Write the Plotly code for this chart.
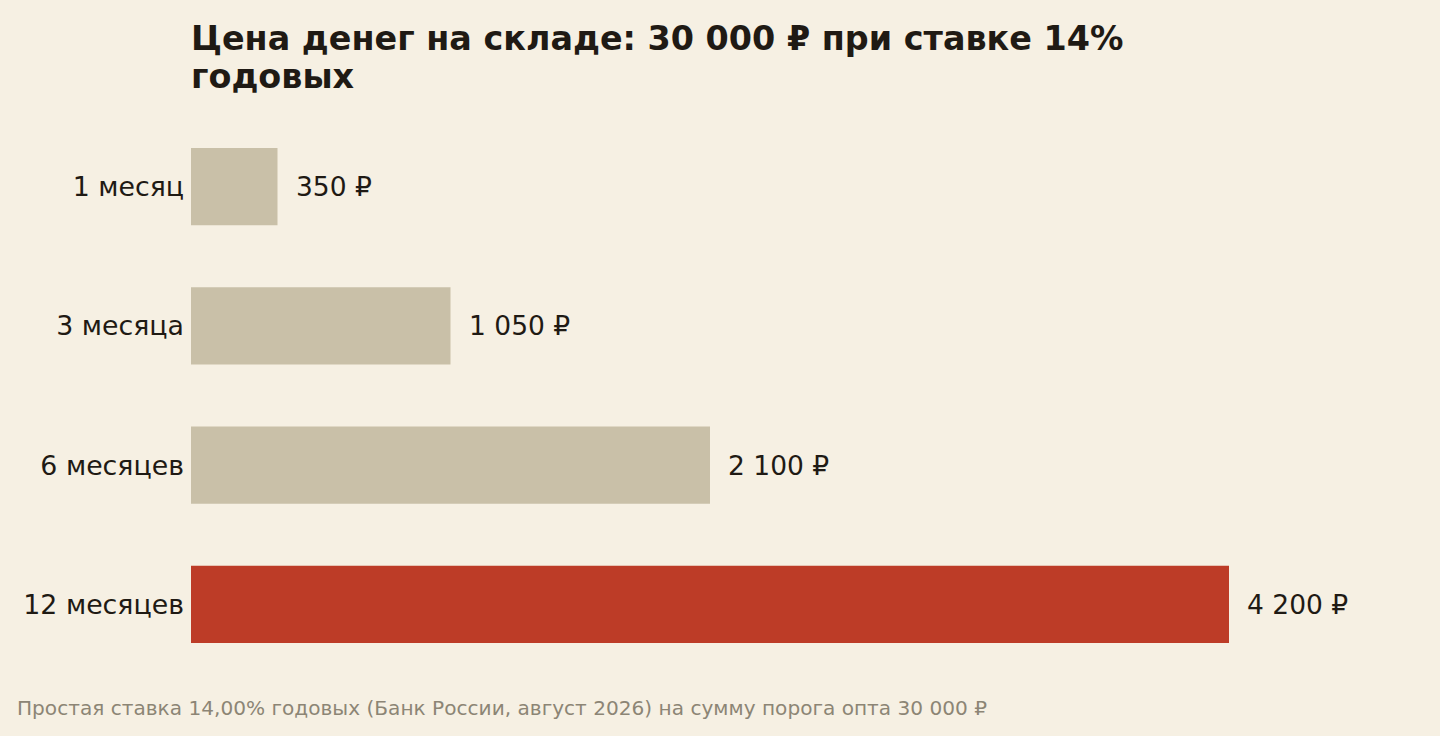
import plotly.graph_objects as go

categories = ["1 месяц", "3 месяца", "6 месяцев", "12 месяцев"]
values = [350, 1050, 2100, 4200]
value_labels = ["350 ₽", "1 050 ₽", "2 100 ₽", "4 200 ₽"]
bar_colors = ["#c9c0a8", "#c9c0a8", "#c9c0a8", "#bd3c27"]

title_lines = ["Цена денег на складе: 30 000 ₽ при ставке 14%", "годовых"]
footnote = "Простая ставка 14,00% годовых (Банк России, август 2026) на сумму порога опта 30 000 ₽"

BG = "#f6f0e3"
TXT = "#1f1a14"

W, H = 1440, 736
ML, MR, MT, MB = 191, 60, 117, 62
plot_w = W - ML - MR
plot_h = H - MT - MB
xmax = plot_w / (1038 / 4200)


def py(px):
    return (H - MB - px) / plot_h


def pxx(px):
    return (px - ML) / plot_w


fig = go.Figure()
fig.add_trace(go.Bar(
    y=categories, x=values, orientation="h",
    marker=dict(color=bar_colors, line=dict(width=0)),
    width=0.553, hoverinfo="skip",
))

for c, v, t in zip(categories, values, value_labels):
    fig.add_annotation(x=v, y=c, xref="x", yref="y", text=t, showarrow=False,
                       xanchor="left", yanchor="middle", xshift=16,
                       font=dict(family="DejaVu Sans", size=26.5, color=TXT))

# title (two lines, tight leading as in the reference)
TS = 33.4
for i, line in enumerate(title_lines):
    baseline = 50 + 38 * i
    fig.add_annotation(x=pxx(189), y=py(baseline - 0.35 * TS), xref="paper", yref="paper",
                       text="<b>" + line + "</b>", showarrow=False,
                       xanchor="left", yanchor="middle",
                       font=dict(family="DejaVu Sans", size=TS, color=TXT))

fig.add_annotation(x=pxx(15), y=py(708), xref="paper", yref="paper",
                   text=footnote, showarrow=False, xanchor="left", yanchor="middle",
                   font=dict(family="DejaVu Sans", size=20.1, color="#8c8575"))

fig.update_layout(
    width=W, height=H,
    paper_bgcolor=BG, plot_bgcolor=BG,
    margin=dict(l=ML, r=MR, t=MT, b=MB),
    showlegend=False,
    xaxis=dict(range=[0, xmax], visible=False, fixedrange=True),
    yaxis=dict(autorange="reversed", showgrid=False, zeroline=False, showline=False,
               ticks="", ticklabelstandoff=6, fixedrange=True,
               tickfont=dict(family="DejaVu Sans", size=26.8, color=TXT)),
    font=dict(family="DejaVu Sans", color=TXT),
)

fig.write_html("out.html", config={"displayModeBar": False},
               post_script="document.body.style.margin='0';document.body.style.background='%s';" % BG)
